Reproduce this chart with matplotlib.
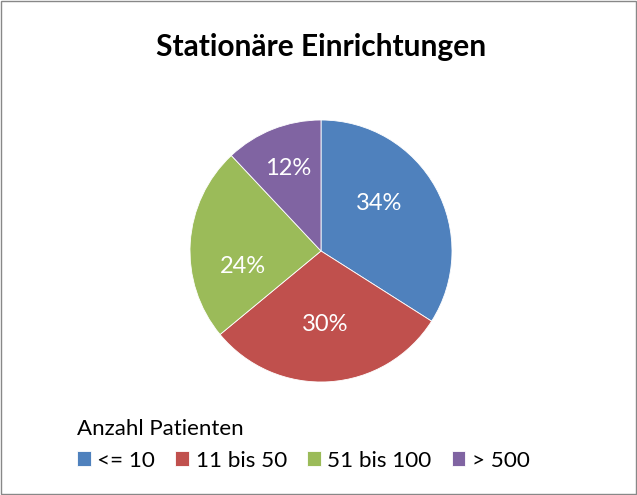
import matplotlib.pyplot as plt
from matplotlib.patches import Rectangle

categories = ["<= 10", "11 bis 50", "51 bis 100", "> 500"]
shares = [34, 30, 24, 12]
colors = ["#4F81BD", "#C0504D", "#9BBB59", "#8064A2"]
label_dist = [0.60, 0.56, 0.61, 0.68]
# small nudges (in pie radii) so labels sit like in the original
label_nudge = [(-0.085, 0.07), (0.0, 0.0), (0.01, -0.16), (0.0, 0.0)]

plt.rcParams['font.family'] = ['Lato', 'DejaVu Sans']

fig = plt.figure(figsize=(6.37, 4.95), dpi=100)
ax = fig.add_axes([190 / 637, 113 / 495, 262 / 637, 262 / 495])

wedges, texts, autotexts = ax.pie(
    shares, colors=colors, startangle=90, counterclock=False,
    autopct='%d%%', pctdistance=0.6,
    wedgeprops=dict(edgecolor='white', linewidth=0.6),
    textprops=dict(color='white', fontsize=17))
ax.set_aspect('equal')
ax.set_xlim(-1, 1)
ax.set_ylim(-1, 1)

for t, d, (nx, ny) in zip(autotexts, label_dist, label_nudge):
    x, y = t.get_position()
    t.set_position((x / 0.6 * d + nx, y / 0.6 * d + ny))

fig.text(0.504, 0.905, "Stationäre Einrichtungen", ha='center', va='center',
         fontsize=21.5, fontweight='bold')

leg = fig.legend(wedges, categories, loc='upper left', bbox_to_anchor=(0.121, 0.153),
                 ncol=4, frameon=False, title="Anzahl Patienten", alignment='left',
                 fontsize=16.2, title_fontsize=16, handlelength=0.6, handleheight=0.6,
                 handletextpad=0.3, columnspacing=0.9, borderaxespad=0, borderpad=0)

fig.patches.append(Rectangle((0.001, 0.002), 0.997, 0.996, transform=fig.transFigure,
                             fill=False, edgecolor='#888888', linewidth=1.0))

fig.savefig("out.png", dpi=100)
